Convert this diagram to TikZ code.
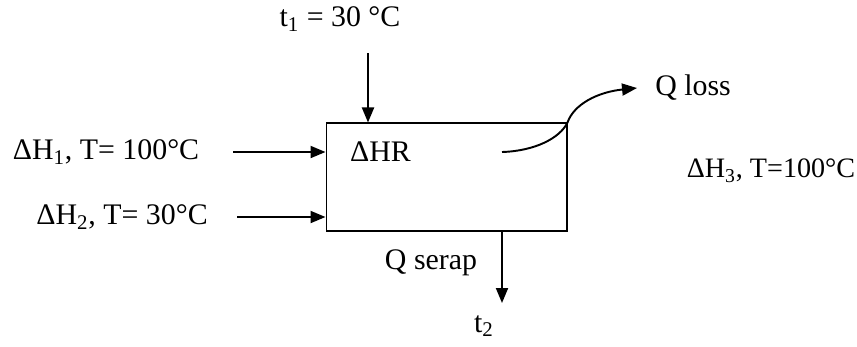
\documentclass[tikz,border=0pt]{standalone}
\usepackage{fontspec}
\setmainfont{Liberation Serif}
\usetikzlibrary{arrows.meta, positioning}

\begin{document}
\begin{tikzpicture}[
    x=0.02cm, y=-0.02cm,
    font=\fontsize{17}{20}\selectfont,
    block/.style={draw, line width=0.6pt, minimum width=4.82cm, minimum height=2.16cm, inner sep=0pt},
    label/.style={inner sep=1pt},
    arrow/.style={-{Triangle[length=3mm, width=2.4mm]}, line width=1.1pt}
]
    \useasboundingbox (0,0) rectangle (857,346);

    \node[block] (reactor) at (446.5,177) {};
    \node[label, anchor=west] (dhr) at (348,152) {ΔHR};

    \node[label] (t1) at (340,19) {t\textsubscript{1} = 30 °C};
    \node[label] (h1) at (106,152) {ΔH\textsubscript{1}, T= 100°C};
    \node[label] (h2) at (122,217) {ΔH\textsubscript{2}, T= 30°C};
    \node[label, font=\fontsize{16}{19}\selectfont] (h3) at (771,171) {ΔH\textsubscript{3}, T=100°C};
    \node[label] (qloss) at (693,88) {Q loss};
    \node[label] (qserap) at (431,263) {Q serap};
    \node[label] (t2) at (484,326) {t\textsubscript{2}};

    \coordinate (t1in) at (368,53);
    \coordinate (h1in) at (233,152);
    \coordinate (h2in) at (237,217);
    \coordinate (lossin) at (502,152);
    \coordinate (lossout) at (637,88);
    \coordinate (serapout) at (502,303);

    \draw[arrow] (t1in) -- (t1in |- reactor.north);
    \draw[arrow] (h1in) -- (h1in -| reactor.west);
    \draw[arrow] (h2in) -- (h2in -| reactor.west);
    \draw[arrow] (serapout |- reactor.south) -- (serapout);
    \draw[arrow] (lossin) .. controls (535,151) and (560,138) .. (reactor.north east)
        .. controls (574,104) and (598,92) .. (lossout);
\end{tikzpicture}
\end{document}
